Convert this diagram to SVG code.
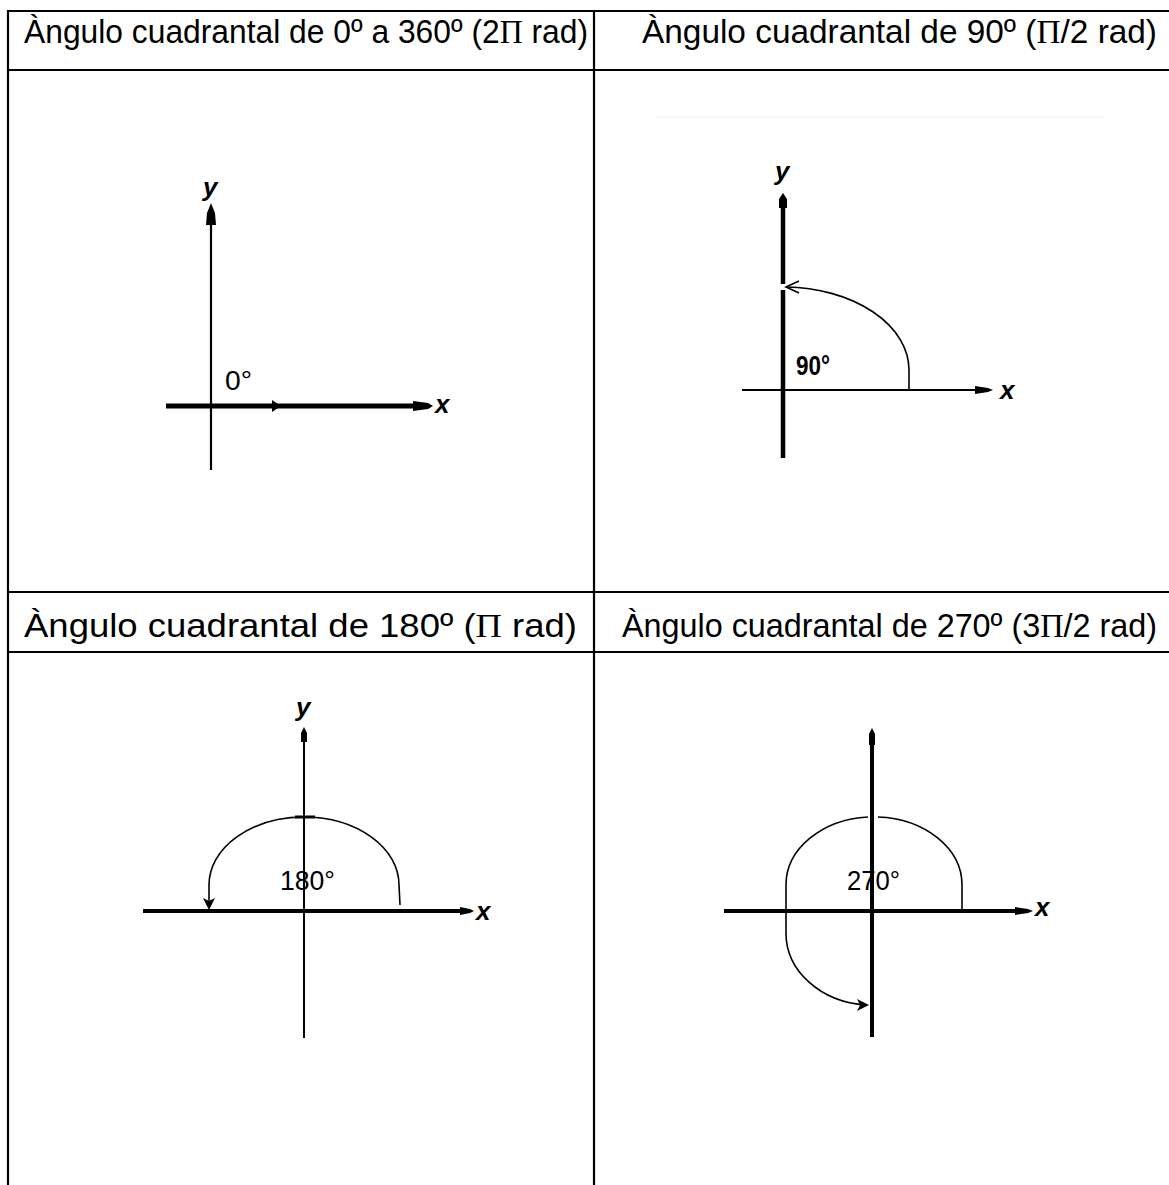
<svg xmlns="http://www.w3.org/2000/svg" width="1169" height="1185" viewBox="0 0 1169 1185">
<style>
.grid{stroke:#000;stroke-width:2.2;fill:none}
.hdr{font-family:"Liberation Sans",Arial,sans-serif;font-size:33px;fill:#000}
.pi{font-family:"Liberation Serif","Times New Roman",serif}
.ax{stroke:#000;fill:none}
.arc{stroke:#000;stroke-width:1.6;fill:none}
.lbl{font-family:"Liberation Sans",Arial,sans-serif;font-size:28px;fill:#000}
.var{font-family:"Liberation Sans",Arial,sans-serif;font-size:26px;font-style:italic;font-weight:bold;fill:#000}
.ah{fill:#000}
</style>
<rect width="1169" height="1185" fill="#fff"/>
<g id="table">
<line class="grid" x1="8" y1="11" x2="1169" y2="11"/>
<line class="grid" x1="8" y1="70" x2="1169" y2="70"/>
<line class="grid" x1="8" y1="592" x2="1169" y2="592"/>
<line class="grid" x1="8" y1="652" x2="1169" y2="652"/>
<line class="grid" x1="8" y1="10" x2="8" y2="1185"/>
<line class="grid" x1="594" y1="10" x2="594" y2="1185"/>
</g>
<g id="headers">
<text class="hdr" x="24" y="43" textLength="564" lengthAdjust="spacingAndGlyphs">Àngulo cuadrantal de 0º a 360º (2<tspan class="pi">Π</tspan> rad)</text>
<text class="hdr" x="642" y="43" textLength="515" lengthAdjust="spacingAndGlyphs">Àngulo cuadrantal de 90º (<tspan class="pi">Π</tspan>/2 rad)</text>
<text class="hdr" x="24" y="637" textLength="553" lengthAdjust="spacingAndGlyphs">Àngulo cuadrantal de 180º (<tspan class="pi">Π</tspan> rad)</text>
<text class="hdr" x="622" y="637" textLength="535" lengthAdjust="spacingAndGlyphs">Àngulo cuadrantal de 270º (3<tspan class="pi">Π</tspan>/2 rad)</text>
</g>
<g id="panel-0">
<line class="ax" stroke-width="2.2" x1="211" y1="210" x2="211" y2="470"/>
<polygon class="ah" points="211,203 215,213 216,225 206,225 207,213"/>
<line class="ax" stroke-width="5" x1="166" y1="406" x2="416" y2="406"/>
<polygon class="ah" points="413,401 428,403 433,406 428,409 413,411"/>
<polygon class="ah" points="272,400 281,406 272,412"/>
<text class="var" x="203" y="196">y</text>
<text class="var" x="435" y="413">x</text>
<text class="lbl" x="225" y="390" textLength="27" lengthAdjust="spacingAndGlyphs">0°</text>
</g>
<g id="panel-90">
<line x1="655" y1="117" x2="1105" y2="117" stroke="#f2f2f2" stroke-width="1"/>
<line class="ax" stroke-width="4.5" x1="783" y1="200" x2="783" y2="284"/>
<line class="ax" stroke-width="4.5" x1="783" y1="290" x2="783" y2="458"/>
<polygon class="ah" points="783,193 787,199 787,208 779,208 779,199"/>
<line class="ax" stroke-width="2.2" x1="742" y1="390" x2="978" y2="390"/>
<polygon class="ah" points="975,386 988,388 993,390 988,392 975,394"/>
<path class="arc" d="M909,389 L909,370 A126,83 0 0 0 786,287"/>
<polyline class="arc" stroke-width="2" points="799,281 786,287 799,293"/>
<text class="var" x="775" y="180">y</text>
<text class="var" x="1000" y="399">x</text>
<text class="lbl" x="796" y="375" font-size="25" font-weight="bold" textLength="34" lengthAdjust="spacingAndGlyphs">90°</text>
</g>
<g id="panel-180">
<line class="ax" stroke-width="2" x1="304" y1="735" x2="304" y2="1038"/>
<polygon class="ah" points="304,727 307,733 307,742 301,742 301,733"/>
<line class="ax" stroke-width="4" x1="143" y1="911" x2="462" y2="911"/>
<polygon class="ah" points="460,907 470,909 474,911 470,913 460,915"/>
<path class="arc" d="M400,905 L399,885 A95,68 0 0 0 209,885 L209,906"/>
<polygon class="ah" points="203,898 209,910 215,898 209,901"/>
<line class="ax" stroke-width="3" x1="295" y1="817" x2="315" y2="817"/>
<text class="var" x="296" y="716">y</text>
<text class="var" x="476" y="920">x</text>
<text class="lbl" x="280" y="890" textLength="55" lengthAdjust="spacingAndGlyphs">180°</text>
</g>
<g id="panel-270">
<line class="ax" stroke-width="4" x1="872" y1="735" x2="872" y2="1037"/>
<polygon class="ah" points="872,728 875,734 875,745 869,745 869,734"/>
<line class="ax" stroke-width="4" x1="724" y1="911" x2="1018" y2="911"/>
<polygon class="ah" points="1015,907 1028,909 1033,911 1028,913 1015,915"/>
<path class="arc" d="M962,911 L962,885 A88,68 0 0 0 878,817"/>
<path class="arc" d="M868,817 A88,68 0 0 0 786,885 L786,933 A86,72 0 0 0 866,1005"/>
<polygon class="ah" points="857,999 869,1005 857,1011 860,1005"/>
<text class="var" x="1035" y="916">x</text>
<text class="lbl" x="847" y="890" textLength="53" lengthAdjust="spacingAndGlyphs">270°</text>
</g>
</svg>
